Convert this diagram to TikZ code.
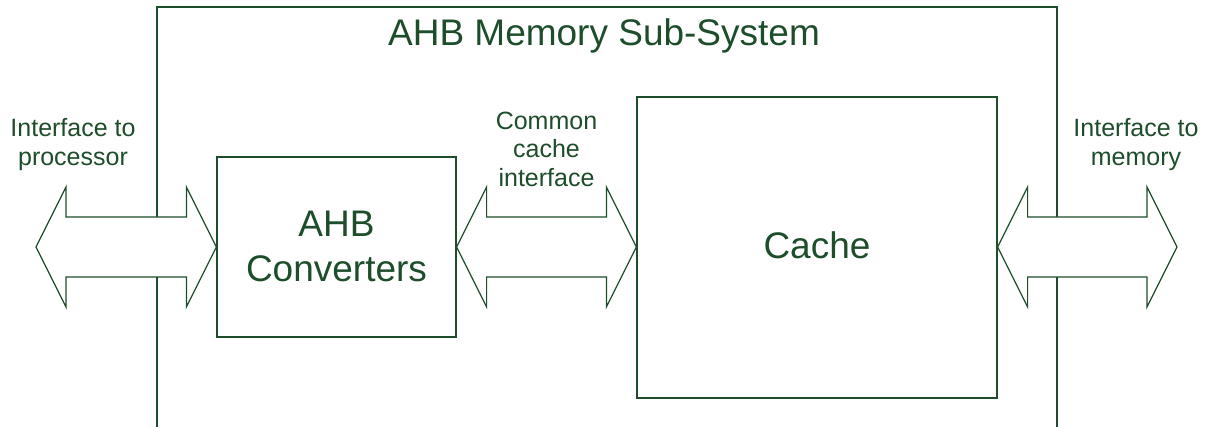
\documentclass[tikz,border=0pt]{standalone}
\usepackage{fontspec}
\setmainfont{Liberation Sans}
\usetikzlibrary{calc}
\definecolor{ahbgreen}{HTML}{1E4D2B}

% hollow double-headed bus arrow between two points (heads 30pt long, 120pt tall, shaft 60pt)
\newcommand\busarrow[2]{%
  \filldraw[busline] (#1) -- ++(30pt,60pt) -- ++(0,-30pt) -- ($(#2)+(-30pt,30pt)$)
    -- ++(0,30pt) -- (#2) -- ++(-30pt,-60pt) -- ++(0,30pt)
    -- ($(#1)+(30pt,-30pt)$) -- ++(0,-30pt) -- cycle;}

\begin{document}
\begin{tikzpicture}[x=1pt,y=-1pt,
  frame/.style={draw=ahbgreen,line width=1.3pt},
  block/.style={draw=ahbgreen,line width=1.2pt,fill=white,rectangle,inner sep=0pt},
  busline/.style={draw=ahbgreen,fill=white,line width=1.2pt,line join=miter},
  big/.style={text=ahbgreen,font=\fontsize{37}{45}\selectfont,align=center},
  small/.style={text=ahbgreen,font=\fontsize{25}{28.5}\selectfont,align=center,inner sep=0pt}]
\useasboundingbox (0,0) rectangle (1210,427);

% sub-system outline, open at the bottom
\draw[frame] (157,427) |- (1057,7) -- (1057,427);
\node[big,anchor=base,inner sep=0pt] (title) at (604,46) {AHB Memory Sub-System};

% blocks
\node[block,minimum width=239pt,minimum height=180pt] (conv) at (336.5,247) {};
\node[big,anchor=base,inner sep=0pt] (convtxt) at (336.5,281.7) {AHB\\Converters};
\node[block,minimum width=360pt,minimum height=301pt] (cache) at (817,247.5) {};
\node[big,anchor=base,inner sep=0pt] (cachetxt) at (817,258.3) {Cache};

% bus interfaces
\coordinate (proc) at (36,247);
\coordinate (mem) at (1177,247);
\busarrow{proc}{conv.west}
\busarrow{conv.east}{$(cache.west)+(0,-0.5)$}
\busarrow{$(cache.east)+(0,-0.5)$}{mem}

% interface labels (anchored on the baseline of their last line)
\node[small,anchor=base] (lproc) at (73,165.5) {Interface to\\processor};
\node[small,anchor=base] (lcommon) at (546.5,186.5) {Common\\cache\\interface};
\node[small,anchor=base] (lmem) at (1136,165.5) {Interface to\\memory};
\end{tikzpicture}
\end{document}
